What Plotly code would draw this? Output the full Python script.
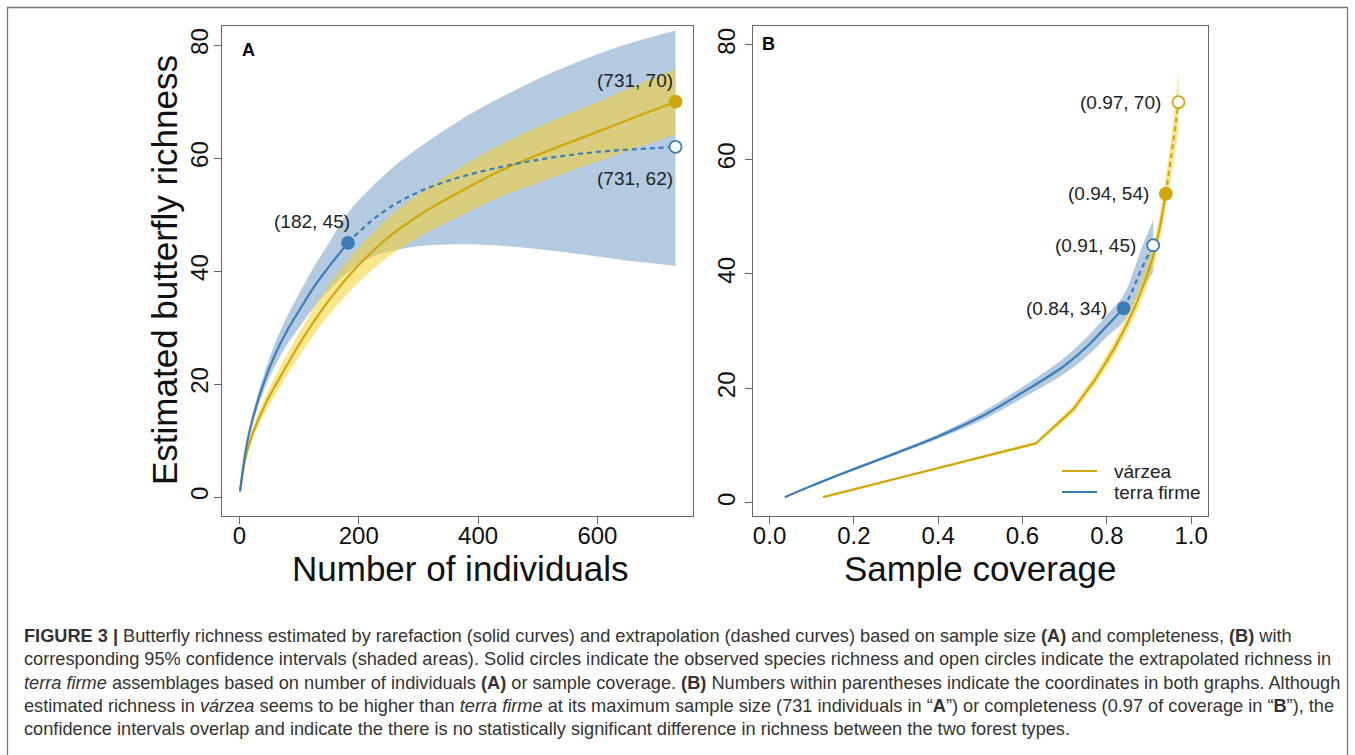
import plotly.graph_objects as go

# ---------------- Panel A : richness vs number of individuals ----------------
# várzea (rarefaction only; observed sample size 731)
var_n  = [1, 10, 20, 35, 50, 75, 100, 130, 160, 192, 222, 252, 282, 312, 372, 432, 491, 551, 611, 671, 731]
var_S  = [1, 6.8, 10.6, 14.5, 17.8, 22.5, 27.0, 31.9, 36.2, 40.2, 43.4, 46.2, 48.5, 50.6, 54.2, 57.5, 60.2, 62.7, 65.1, 67.6, 70]
var_lo = [1, 6.2, 9.7, 13.3, 16.3, 20.7, 24.9, 29.5, 33.5, 37.2, 40.2, 42.7, 44.8, 46.7, 49.9, 52.9, 55.3, 57.6, 59.8, 62.0, 64.2]
var_hi = [1, 7.4, 11.5, 15.7, 19.3, 24.3, 29.1, 34.3, 38.9, 43.2, 46.6, 49.7, 52.2, 54.5, 58.5, 62.1, 65.1, 67.8, 70.4, 73.2, 75.8]

# terra firme (rarefaction up to 182, extrapolation to 731)
tf_n  = [1, 10, 20, 40, 60, 80, 100, 125, 150, 182, 220, 260, 300, 350, 400, 450, 500, 550, 600, 650, 700, 731]
tf_S  = [1, 8.0, 13.0, 20.0, 25.3, 29.5, 33.0, 37.2, 40.8, 45, 48.8, 51.8, 54.0, 56.0, 57.5, 58.7, 59.7, 60.5, 61.1, 61.5, 61.8, 62]
tf_lo = [1, 7.6, 12.2, 18.6, 23.3, 27.0, 30.0, 33.6, 36.6, 39.8, 42.4, 43.7, 44.4, 44.7, 44.7, 44.4, 43.9, 43.3, 42.6, 41.9, 41.3, 40.9]
tf_hi = [1, 8.4, 13.8, 21.4, 27.3, 32.0, 36.0, 40.8, 45.0, 50.3, 54.7, 58.6, 61.8, 65.4, 68.6, 71.4, 74.0, 76.3, 78.4, 80.2, 81.7, 82.6]
tf_obs = 9          # index of observed sample (182 individuals)

# ---------------- Panel B : richness vs sample coverage ----------------
tfc_C  = [0.036, 0.1, 0.2, 0.3, 0.4, 0.5, 0.6, 0.7, 0.76, 0.8, 0.84, 0.86, 0.88, 0.91]
tfc_S  = [1, 3.0, 5.9, 8.7, 11.6, 15.0, 19.3, 24.0, 27.8, 30.9, 34, 37, 40.5, 45]
tfc_lo = [1, 2.9, 5.7, 8.4, 11.2, 14.3, 18.3, 22.6, 26.1, 29.0, 31.7, 34.2, 37.0, 40.3]
tfc_hi = [1, 3.1, 6.1, 9.0, 12.0, 15.7, 20.3, 25.4, 29.5, 32.8, 36.3, 39.8, 44.0, 49.4]
tfc_obs = 10

varc_C  = [0.127, 0.632, 0.72, 0.77, 0.80, 0.82, 0.845, 0.87, 0.89, 0.91, 0.925, 0.94, 0.95, 0.96, 0.97]
varc_S  = [1, 10.4, 16.3, 21.3, 24.8, 27.3, 30.8, 34.8, 38.6, 43, 47.8, 54, 59, 64.3, 70]
varc_lo = [1, 10.1, 15.6, 20.4, 23.7, 26.1, 29.4, 33.2, 36.8, 41.0, 45.5, 51.3, 55.8, 60.4, 65.0]
varc_hi = [1, 10.7, 17.0, 22.2, 25.9, 28.5, 32.2, 36.4, 40.4, 45.0, 50.1, 56.7, 62.2, 68.2, 75.5]
varc_obs = 11

A_xticks = [0, 200, 400, 600]
B_xticks = [0.0, 0.2, 0.4, 0.6, 0.8, 1.0]
y_ticks = [0, 20, 40, 60, 80]

# ---------------- style ----------------
BLUE = "#3B7DB7"
GOLD = "#D1A70B"
BLUE_BAND = "#B3CAE0"
GOLD_BAND = "rgba(245,209,45,0.55)"
AXC = "#666666"
FONT = "Liberation Sans, Arial, Helvetica, sans-serif"
W, H = 1355, 755


def fx(px):
    return px / W


def fy(py):
    return 1 - py / H


fig = go.Figure()


def band(x, lo, hi, color, xa, ya, shape):
    fig.add_trace(go.Scatter(x=x, y=lo, mode="lines", line=dict(width=0, shape=shape, color=color),
                             hoverinfo="skip", showlegend=False, xaxis=xa, yaxis=ya))
    fig.add_trace(go.Scatter(x=x, y=hi, mode="lines", line=dict(width=0, shape=shape, color=color),
                             fill="tonexty", fillcolor=color, hoverinfo="skip", showlegend=False,
                             xaxis=xa, yaxis=ya))


def curve(x, y, color, xa, ya, dash="solid", shape="spline", name=None):
    fig.add_trace(go.Scatter(x=x, y=y, mode="lines", name=name,
                             line=dict(color=color, width=2.2, dash=dash, shape=shape),
                             showlegend=False, xaxis=xa, yaxis=ya))


def point(x, y, color, filled, xa, ya):
    fig.add_trace(go.Scatter(x=[x], y=[y], mode="markers", showlegend=False, xaxis=xa, yaxis=ya,
                             marker=dict(size=12, color=color if filled else "white",
                                         line=dict(color=color, width=1.8))))


DASH = "5px,4px"

# ---- Panel A ----
band(tf_n, tf_lo, tf_hi, BLUE_BAND, "x", "y", "spline")
band(var_n, var_lo, var_hi, GOLD_BAND, "x", "y", "spline")
curve(var_n, var_S, GOLD, "x", "y", name="várzea")
curve(tf_n[:tf_obs + 1], tf_S[:tf_obs + 1], BLUE, "x", "y", name="terra firme")
curve(tf_n[tf_obs:], tf_S[tf_obs:], BLUE, "x", "y", dash=DASH)
point(tf_n[tf_obs], tf_S[tf_obs], BLUE, True, "x", "y")
point(tf_n[-1], tf_S[-1], BLUE, False, "x", "y")
point(var_n[-1], var_S[-1], GOLD, True, "x", "y")

# ---- Panel B ----
band(tfc_C, tfc_lo, tfc_hi, BLUE_BAND, "x2", "y2", "spline")
band(varc_C, varc_lo, varc_hi, GOLD_BAND, "x2", "y2", "linear")
curve(varc_C[:varc_obs + 1], varc_S[:varc_obs + 1], GOLD, "x2", "y2", shape="linear", name="várzea")
curve(varc_C[varc_obs:], varc_S[varc_obs:], GOLD, "x2", "y2", dash=DASH, shape="linear")
curve(tfc_C[:tfc_obs + 1], tfc_S[:tfc_obs + 1], BLUE, "x2", "y2", name="terra firme")
curve(tfc_C[tfc_obs:], tfc_S[tfc_obs:], BLUE, "x2", "y2", dash=DASH)
point(tfc_C[tfc_obs], tfc_S[tfc_obs], BLUE, True, "x2", "y2")
point(tfc_C[-1], tfc_S[-1], BLUE, False, "x2", "y2")
point(varc_C[varc_obs], varc_S[varc_obs], GOLD, True, "x2", "y2")
point(varc_C[-1], varc_S[-1], GOLD, False, "x2", "y2")

# ---- axes ----
top, bottom = 26, 515.5
ax_common = dict(showgrid=False, zeroline=False, showline=True, mirror=True, linecolor=AXC, linewidth=1.3,
                 ticks="outside", ticklen=7, tickwidth=1.2, tickcolor=AXC,
                 tickfont=dict(family=FONT, size=24, color="#111"))
fig.update_layout(
    xaxis=dict(domain=[fx(222), fx(693)], range=[-29.24, 760.24], tickvals=A_xticks, anchor="y",
               ticklabelstandoff=-8, **ax_common),
    yaxis=dict(domain=[fy(bottom), fy(top)], range=[-3.27, 83.4], tickvals=y_ticks, tickangle=-90,
               anchor="x", ticklabelstandoff=-4, **ax_common),
    xaxis2=dict(domain=[fx(752.7), fx(1208)], range=[-0.04, 1.04], tickvals=B_xticks, tickformat=".1f",
                anchor="y2", ticklabelstandoff=-8, **ax_common),
    yaxis2=dict(domain=[fy(bottom), fy(top)], range=[-2.2, 83.3], tickvals=y_ticks, tickangle=-90,
                anchor="x2", **ax_common),
)

ann = []
TITLE = dict(family=FONT, size=35, color="#111")
# axis titles
ann.append(dict(text="Number of individuals", x=fx(460), y=fy(568), xref="paper", yref="paper",
                xanchor="center", yanchor="middle", showarrow=False, font=TITLE))
ann.append(dict(text="Sample coverage", x=fx(980), y=fy(568), xref="paper", yref="paper",
                xanchor="center", yanchor="middle", showarrow=False, font=TITLE))
ann.append(dict(text="Estimated butterfly richness", x=fx(164), y=fy(270), xref="paper", yref="paper",
                xanchor="center", yanchor="middle", textangle=-90, showarrow=False, font=TITLE))
# panel letters
ann.append(dict(text="<b>A</b>", x=fx(248), y=fy(50), xref="paper", yref="paper", showarrow=False,
                xanchor="center", yanchor="middle", font=dict(family=FONT, size=18, color="#000")))
ann.append(dict(text="<b>B</b>", x=fx(768), y=fy(44), xref="paper", yref="paper", showarrow=False,
                xanchor="center", yanchor="middle", font=dict(family=FONT, size=18, color="#000")))

LBL = dict(family=FONT, size=19, color="#222")


def lab(x, y, text, xa, ya, xshift, yshift):
    ann.append(dict(text=text, x=x, y=y, xref=xa, yref=ya, xanchor="right", yanchor="middle",
                    xshift=xshift, yshift=yshift, showarrow=False, font=LBL))


lab(tf_n[tf_obs], tf_S[tf_obs], f"({tf_n[tf_obs]}, {tf_S[tf_obs]:g})", "x", "y", 4, 21)
lab(var_n[-1], var_S[-1], f"({var_n[-1]}, {var_S[-1]:g})", "x", "y", -1, 21)
lab(tf_n[-1], tf_S[-1], f"({tf_n[-1]}, {tf_S[-1]:g})", "x", "y", -1, -32)
for c, s in [(tfc_C[tfc_obs], tfc_S[tfc_obs]), (tfc_C[-1], tfc_S[-1]),
             (varc_C[varc_obs], varc_S[varc_obs]), (varc_C[-1], varc_S[-1])]:
    lab(c, s, f"({round(c, 2):.2f}, {s:g})", "x2", "y2", -15, 0)

# legend (drawn manually, panel B bottom-right)
shapes = []
for i, (name, col) in enumerate([("várzea", GOLD), ("terra firme", BLUE)]):
    yy = 471 + 21 * i
    shapes.append(dict(type="line", xref="paper", yref="paper", x0=fx(1062), x1=fx(1097),
                       y0=fy(yy), y1=fy(yy), line=dict(color=col, width=2.2)))
    ann.append(dict(text=name, x=fx(1112), y=fy(yy), xref="paper", yref="paper", xanchor="left",
                    yanchor="middle", showarrow=False, font=dict(family=FONT, size=19, color="#222")))

# outer frame
shapes.append(dict(type="rect", xref="paper", yref="paper", x0=fx(7.5), x1=fx(1347.5), y0=fy(780),
                   y1=fy(7.5), line=dict(color="#777", width=1.3)))

# caption
cap_lines = [
    "<b>FIGURE 3 |</b> Butterfly richness estimated by rarefaction (solid curves) and extrapolation (dashed curves) based on sample size <b>(A)</b> and completeness, <b>(B)</b> with",
    "corresponding 95% confidence intervals (shaded areas). Solid circles indicate the observed species richness and open circles indicate the extrapolated richness in",
    "<i>terra firme</i> assemblages based on number of individuals <b>(A)</b> or sample coverage. <b>(B)</b> Numbers within parentheses indicate the coordinates in both graphs. Although",
    "estimated richness in <i>várzea</i> seems to be higher than <i>terra firme</i> at its maximum sample size (731 individuals in “<b>A</b>”) or completeness (0.97 of coverage in “<b>B</b>”), the",
    "confidence intervals overlap and indicate the there is no statistically significant difference in richness between the two forest types.",
]
for i, line in enumerate(cap_lines):
    ann.append(dict(text=line, x=fx(22), y=fy(636 + 23.3 * i), xref="paper", yref="paper", xanchor="left",
                    yanchor="middle", showarrow=False, align="left",
                    font=dict(family=FONT, size=18.2, color="#333")))

fig.update_layout(annotations=ann, shapes=shapes, width=W, height=H, autosize=False,
                  margin=dict(l=0, r=0, t=0, b=0), paper_bgcolor="white", plot_bgcolor="white",
                  showlegend=False)

fig.write_html("out.html", config={"displayModeBar": False},
               post_script="document.body.style.margin='0';document.body.style.overflow='hidden';")
